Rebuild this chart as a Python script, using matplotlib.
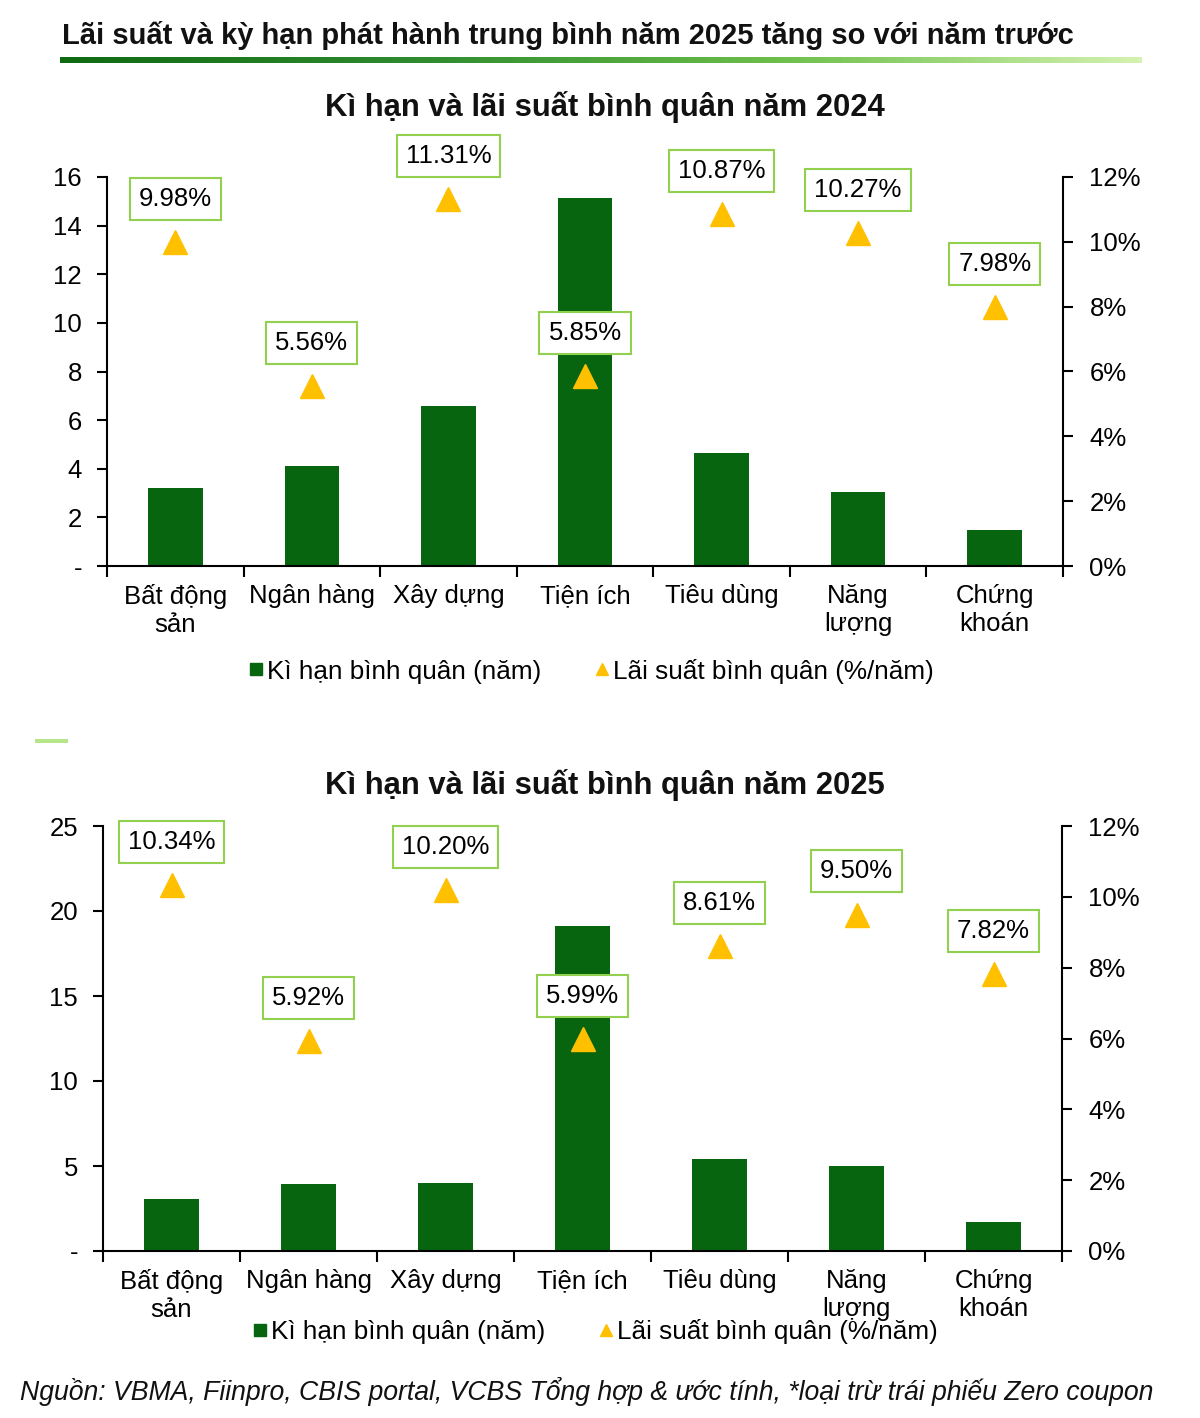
import numpy as np
import matplotlib
matplotlib.use('Agg')
import matplotlib.pyplot as plt
from matplotlib.lines import Line2D
from matplotlib.ticker import FixedLocator, FuncFormatter, NullFormatter

plt.rcParams['font.family'] = ['Liberation Sans', 'DejaVu Sans']

# ── Data ─────────────────────────────────────────────────────────────────────
categories = ['Bất động\nsản', 'Ngân hàng', 'Xây dựng', 'Tiện ích',
              'Tiêu dùng', 'Năng\nlượng', 'Chứng\nkhoán']
term_2024 = [3.2, 4.1, 6.6, 15.15, 4.65, 3.05, 1.5]
rate_2024 = [9.98, 5.56, 11.31, 5.85, 10.87, 10.27, 7.98]
term_2025 = [3.05, 3.95, 4.0, 19.1, 5.4, 5.0, 1.7]
rate_2025 = [10.34, 5.92, 10.20, 5.99, 8.61, 9.50, 7.82]

BAR = '#07650F'
TRI = '#FFC000'
BOX = '#92D050'
W, H = 1200, 1418
FS = 18.5


def px_rect(l, t, r, b):
    return [l / W, 1 - b / H, (r - l) / W, (b - t) / H]


fig = plt.figure(figsize=(W / 100, H / 100), dpi=100)
fig.patch.set_facecolor('white')

# header
fig.text(62 / W, 1 - 35 / H,
         'Lãi suất và kỳ hạn phát hành trung bình năm 2025 tăng so với năm trước',
         fontsize=21, fontweight='bold', va='center', ha='left', color='#111111')
gax = fig.add_axes(px_rect(60, 57, 1142, 63))
grad = np.linspace(0, 1, 256)[None, :]
cmap = matplotlib.colors.LinearSegmentedColormap.from_list(
    'g', ['#0E6B12', '#2E8B2E', '#6DBF4A', '#D4F2B0'])
gax.imshow(grad, aspect='auto', cmap=cmap)
gax.axis('off')

# small dash between charts
dax = fig.add_axes(px_rect(35, 739, 68, 743))
dax.set_facecolor('#B5E68A')
dax.set_xticks([]); dax.set_yticks([])
for s in dax.spines.values():
    s.set_visible(False)


def draw_chart(rect, title, title_y, terms, rates, ymax, leg_y):
    ax = fig.add_axes(rect)
    x = np.arange(len(categories))
    ax.bar(x, terms, width=0.4, color=BAR, zorder=2)
    ax.set_xlim(-0.5, len(categories) - 0.5)
    ax.set_ylim(0, ymax)

    step = 2 if ymax == 16 else 5
    ax.yaxis.set_major_locator(FixedLocator(np.arange(0, ymax + 0.1, step)))
    ax.yaxis.set_major_formatter(FuncFormatter(lambda v, p: '-' if v == 0 else f'{v:.0f}'))
    ax.xaxis.set_major_locator(FixedLocator(np.arange(-0.5, len(categories), 1.0)))
    ax.xaxis.set_major_formatter(NullFormatter())
    ax.xaxis.set_minor_locator(FixedLocator(x))
    ax.set_xticklabels(categories, minor=True)
    ax.tick_params(axis='x', which='minor', length=0, pad=13, labelsize=FS)
    ax.tick_params(axis='x', which='major', length=8, width=1.5, direction='out')
    ax.tick_params(axis='y', length=7, width=1.5, labelsize=FS, pad=11)
    for lbl in ax.get_xticklabels(minor=True):
        lbl.set_linespacing(1.2)
    ax.spines['top'].set_visible(False)
    ax.spines['right'].set_visible(False)
    for s in ('left', 'bottom'):
        ax.spines[s].set_linewidth(1.5)

    ax2 = ax.twinx()
    ax2.set_ylim(0, 12)
    ax2.yaxis.set_major_locator(FixedLocator(np.arange(0, 12.1, 2)))
    ax2.yaxis.set_major_formatter(FuncFormatter(lambda v, p: f'{v:.0f}%'))
    ax2.tick_params(axis='y', length=7, width=1.5, labelsize=FS, pad=12)
    ax2.spines['top'].set_visible(False)
    ax2.spines['left'].set_visible(False)
    ax2.spines['bottom'].set_visible(False)
    ax2.spines['right'].set_linewidth(1.5)
    ax2.plot(x, rates, linestyle='none', marker='^', ms=17, color=TRI,
             mec=TRI, zorder=3)
    for xi, r in zip(x, rates):
        ax2.annotate(f'{r:.2f}%', (xi, r), xytext=(0, 31), textcoords='offset points',
                     ha='center', va='center', fontsize=FS, zorder=5,
                     bbox=dict(boxstyle='square,pad=0.35', fc='white', ec=BOX, lw=1.5))

    fig.text(0.5 + 5 / W, 1 - title_y / H, title, ha='center', va='center',
             fontsize=22.3, fontweight='bold', color='#111111')

    handles = [Line2D([], [], linestyle='none', marker='s', ms=9, color=BAR),
               Line2D([], [], linestyle='none', marker='^', ms=9, color=TRI)]
    fig.legend(handles, ['Kì hạn bình quân (năm)', 'Lãi suất bình quân (%/năm)'],
               loc='center', bbox_to_anchor=(leg_y[0] / W, 1 - leg_y[1] / H),
               ncol=2, frameon=False, fontsize=18.8, handlelength=0.6,
               handletextpad=0.15, columnspacing=2.0)
    return ax


draw_chart(px_rect(107, 177, 1063, 566), 'Kì hạn và lãi suất bình quân năm 2024', 107,
           term_2024, rate_2024, 16, (591, 671))
draw_chart(px_rect(103, 826, 1062, 1251), 'Kì hạn và lãi suất bình quân năm 2025', 785,
           term_2025, rate_2025, 25, (595, 1332))

fig.text(20 / W, 1 - 1392 / H,
         'Nguồn: VBMA, Fiinpro, CBIS portal, VCBS Tổng hợp & ước tính, *loại trừ trái phiếu Zero coupon',
         fontsize=19.2, style='italic', ha='left', va='center', color='#111111')

fig.savefig('out.png', dpi=100, facecolor='white')
